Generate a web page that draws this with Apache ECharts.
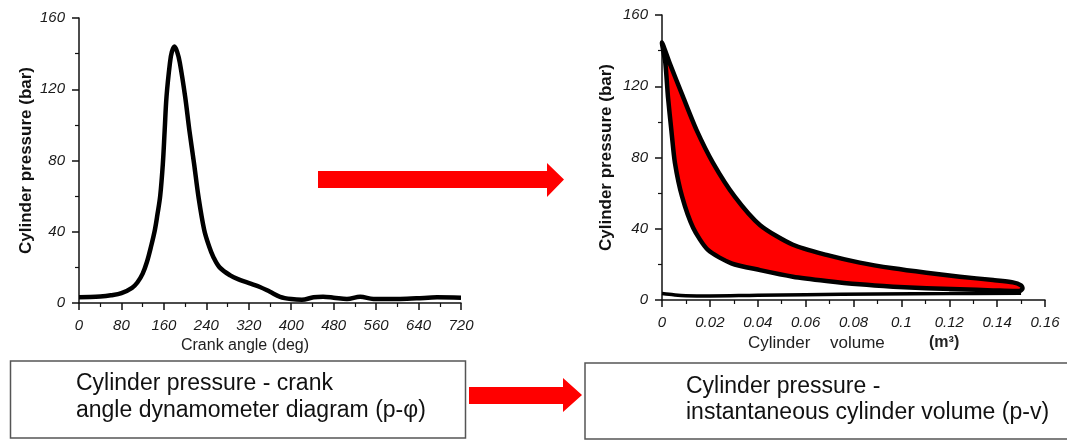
<!DOCTYPE html>
<html><head><meta charset="utf-8">
<script src="https://cdn.jsdelivr.net/npm/echarts@6/dist/echarts.min.js"></script>
<style>html,body{margin:0;padding:0;background:#fff}#c{width:1067px;height:441px}</style>
</head><body><div id="c"></div>
<script>
// ---- data ----
const angleTicks = [0, 80, 160, 240, 320, 400, 480, 560, 640, 720];
const pressureTicks = [0, 40, 80, 120, 160];
const volumeTicks = [0, 0.02, 0.04, 0.06, 0.08, 0.1, 0.12, 0.14, 0.16];

// p-phi diagram: crank angle (deg) and cylinder pressure (bar)
const crankAngle = [0, 20, 40, 60, 80, 100, 110, 120, 128, 136, 143, 148, 153, 158, 161.5, 165, 171.5, 175, 180,
  185, 190, 200, 208, 217, 225, 236, 245, 253, 265, 285, 303, 322, 341, 360, 379, 400, 420, 442, 460, 480,
  505, 530, 555, 600, 636, 675, 720];
const pressureByAngle = [3.2, 3.3, 3.6, 4.3, 5.5, 8.5, 11.5, 16.5, 23, 32, 41, 50, 60, 78, 97, 116, 135, 141, 144,
  141, 135, 116, 97, 78, 60, 41, 32, 26, 20, 15.5, 13, 11, 9, 6.3, 3.5, 2.2, 1.8, 3.2, 3.5, 3.0,
  2.2, 3.5, 2.3, 2.2, 2.6, 3.2, 3.0];

// p-V loop (expansion branch, then compression branch back), volume m3, pressure bar
const loopVolume = [0.0000, 0.0032, 0.0088, 0.0144, 0.0213, 0.0304, 0.0410, 0.0547, 0.0687, 0.0826, 0.0966,
  0.1105, 0.1244, 0.1383, 0.1466, 0.1500, 0.1506, 0.1495,
  0.1383, 0.1244, 0.1105, 0.0966, 0.0826, 0.0687, 0.0547, 0.0410, 0.0290, 0.0192, 0.0130, 0.0084, 0.0054,
  0.0039, 0.0025, 0.0014];
const loopPressure = [144.5, 133, 114, 95.5, 77, 58, 42, 31, 25.3, 21, 17.8,
  15.3, 13.1, 11.2, 9.9, 8.2, 6.5, 5.1,
  5.4, 6.0, 6.6, 7.5, 8.8, 10.7, 13.1, 16.8, 20.6, 28.1, 40.6, 58, 77,
  95.5, 114, 133];

// gas exchange (low pressure) line
const gasVolume = [0, 0.003, 0.01, 0.02, 0.04, 0.06, 0.09, 0.12, 0.15];
const gasPressure = [3.6, 3.2, 2.4, 2.3, 2.7, 3.0, 3.4, 3.6, 3.8];

// ---- chart ----
const chart = echarts.init(document.getElementById('c'), null, {renderer: 'canvas'});
const zip = (a, b) => a.map((v, i) => [v, b[i]]);
const step = t => t[1] - t[0];

const labelStyle = {color: '#1a1a1a', fontSize: 15, fontStyle: 'italic', fontFamily: 'Liberation Sans, Arial, sans-serif'};
const axisLine = {show: true, lineStyle: {color: '#111', width: 1.5}};
const axisTick = {show: true, length: 7, lineStyle: {color: '#111', width: 1.5}};
const minorTick = {show: true, splitNumber: 2, length: 4, lineStyle: {color: '#111', width: 1.2}};
const yName = {color: '#111', fontSize: 17, fontWeight: 'bold', fontFamily: 'Liberation Sans, Arial, sans-serif'};

function xAx(ticks, grid) {
  return {type: 'value', gridIndex: grid, min: ticks[0], max: ticks[ticks.length - 1], interval: step(ticks),
    axisLine, axisTick, minorTick, splitLine: {show: false}, minorSplitLine: {show: false},
    axisLabel: Object.assign({margin: 15, showMaxLabel: true, showMinLabel: true}, labelStyle)};
}
function yAx(ticks, grid, gap) {
  return {type: 'value', gridIndex: grid, min: ticks[0], max: ticks[ticks.length - 1], interval: step(ticks),
    name: 'Cylinder pressure (bar)', nameLocation: 'middle', nameGap: gap, nameTextStyle: yName,
    axisLine, axisTick, minorTick, splitLine: {show: false}, minorSplitLine: {show: false},
    axisLabel: Object.assign({margin: 14}, labelStyle)};
}

const textFont = 'Liberation Sans, Arial, sans-serif';
chart.setOption({
  animation: false,
  backgroundColor: '#fff',
  grid: [
    {left: 79, top: 18, width: 382, height: 285},
    {left: 662, top: 15, width: 383, height: 285}
  ],
  xAxis: [xAx(angleTicks, 0), xAx(volumeTicks, 1)],
  yAxis: [yAx(pressureTicks, 0, 44), yAx(pressureTicks, 1, 47)],
  series: [
    {type: 'line', xAxisIndex: 0, yAxisIndex: 0, data: zip(crankAngle, pressureByAngle), smooth: 0.35,
      showSymbol: false, lineStyle: {color: '#000', width: 4.5, join: 'round'}, silent: true},
    {type: 'line', xAxisIndex: 1, yAxisIndex: 1, data: zip(gasVolume, gasPressure), smooth: 0.4,
      showSymbol: false, lineStyle: {color: '#000', width: 3.5}, silent: true, z: 2},
    {type: 'custom', xAxisIndex: 1, yAxisIndex: 1, data: [[loopVolume[0], loopPressure[0]]], silent: true, z: 3,
      renderItem: (params, api) => {
        const pts = loopVolume.map((v, i) => api.coord([v, loopPressure[i]]));
        return {type: 'polygon', shape: {points: pts, smooth: 0.25},
          style: {fill: '#ff0000', stroke: '#000', lineWidth: 4.5, lineJoin: 'round'}};
      }}
  ],
  graphic: [
    {type: 'text', x: 245, y: 346, style: {text: 'Crank angle (deg)', font: '16px ' + textFont, fill: '#222', align: 'center', verticalAlign: 'middle'}},
    {type: 'text', x: 748, y: 343, style: {text: 'Cylinder', font: '17px ' + textFont, fill: '#222', verticalAlign: 'middle'}},
    {type: 'text', x: 830, y: 343, style: {text: 'volume', font: '17px ' + textFont, fill: '#222', verticalAlign: 'middle'}},
    {type: 'text', x: 929, y: 343, style: {text: '(m³)', font: 'bold 16px ' + textFont, fill: '#222', verticalAlign: 'middle'}},
    // arrows
    {type: 'polygon', shape: {points: [[318, 171], [547, 171], [547, 163], [564, 179.5], [547, 197], [547, 188], [318, 188]]}, style: {fill: '#ff0000'}},
    {type: 'polygon', shape: {points: [[469, 387], [563, 387], [563, 378], [582, 395], [563, 412], [563, 404], [469, 404]]}, style: {fill: '#ff0000'}},
    // boxes
    {type: 'rect', shape: {x: 10.5, y: 361, width: 455, height: 77}, style: {fill: '#fff', stroke: '#555', lineWidth: 1.5}},
    {type: 'rect', shape: {x: 585, y: 363, width: 490, height: 76}, style: {fill: '#fff', stroke: '#555', lineWidth: 1.5}},
    {type: 'text', x: 76, y: 384, style: {text: 'Cylinder pressure - crank', font: '23px ' + textFont, fill: '#111', verticalAlign: 'middle'}},
    {type: 'text', x: 76, y: 411, style: {text: 'angle dynamometer diagram (p-φ)', font: '23px ' + textFont, fill: '#111', verticalAlign: 'middle'}},
    {type: 'text', x: 686, y: 386.5, style: {text: 'Cylinder pressure -', font: '23px ' + textFont, fill: '#111', verticalAlign: 'middle'}},
    {type: 'text', x: 686, y: 413, style: {text: 'instantaneous cylinder volume (p-v)', font: '23px ' + textFont, fill: '#111', verticalAlign: 'middle'}}
  ]
});
</script></body></html>
